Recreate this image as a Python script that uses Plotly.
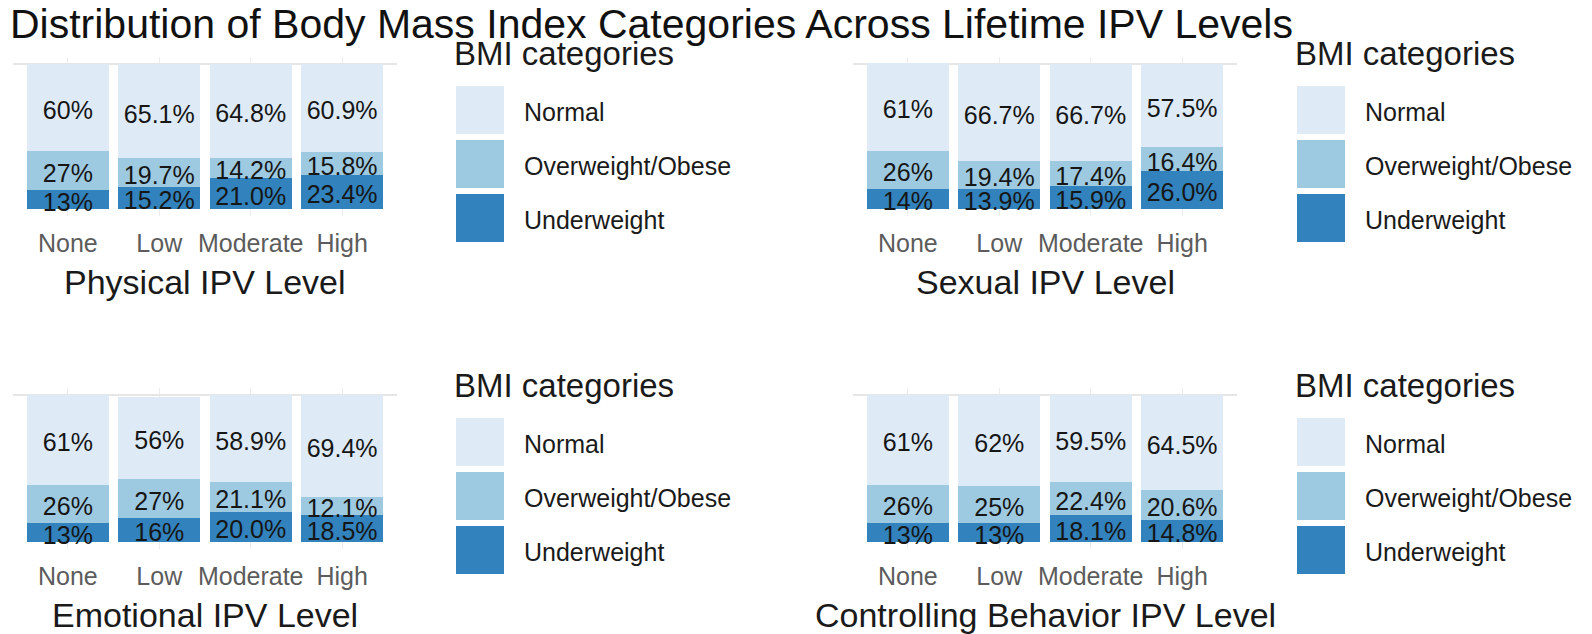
import plotly.graph_objects as go
from plotly.subplots import make_subplots

# ---- data (labels as printed on the bars) ----
levels = ["None", "Low", "Moderate", "High"]
bmi_order = ["Underweight", "Overweight/Obese", "Normal"]   # bottom -> top
bmi_legend = ["Normal", "Overweight/Obese", "Underweight"]
bmi_colors = {"Normal": "#deebf7", "Overweight/Obese": "#9ecae1", "Underweight": "#3182bd"}

physical_normal = ["60%", "65.1%", "64.8%", "60.9%"]
physical_over = ["27%", "19.7%", "14.2%", "15.8%"]
physical_under = ["13%", "15.2%", "21.0%", "23.4%"]

sexual_normal = ["61%", "66.7%", "66.7%", "57.5%"]
sexual_over = ["26%", "19.4%", "17.4%", "16.4%"]
sexual_under = ["14%", "13.9%", "15.9%", "26.0%"]

emotional_normal = ["61%", "56%", "58.9%", "69.4%"]
emotional_over = ["26%", "27%", "21.1%", "12.1%"]
emotional_under = ["13%", "16%", "20.0%", "18.5%"]

controlling_normal = ["61%", "62%", "59.5%", "64.5%"]
controlling_over = ["26%", "25%", "22.4%", "20.6%"]
controlling_under = ["13%", "13%", "18.1%", "14.8%"]

panels = [
    ("Physical IPV Level", physical_normal, physical_over, physical_under),
    ("Sexual IPV Level", sexual_normal, sexual_over, sexual_under),
    ("Emotional IPV Level", emotional_normal, emotional_over, emotional_under),
    ("Controlling Behavior IPV Level", controlling_normal, controlling_over, controlling_under),
]

W, H = 1592, 634
OFF = 8  # page body margin
FONT = "Liberation Sans, Arial, sans-serif"
LABEL_DROP = 3.5  # bar labels sit a little under the segment centre


def px(x):
    return (x - OFF) / W


def py(y):
    return 1 - (y - OFF) / H


# pixel boxes of each panel: (x0, x1), (y_top, y_bottom)
col_x = [(13, 397), (853, 1237)]
row_y = [(57, 216), (388, 549)]

fig = make_subplots(rows=2, cols=2)
annotations = []
shapes = []

for i, (title, normal, over, under) in enumerate(panels):
    r, c = divmod(i, 2)
    x0, x1 = col_x[c]
    yt, yb = row_y[r]
    ax = "" if i == 0 else str(i + 1)
    series = {"Underweight": under, "Overweight/Obese": over, "Normal": normal}

    base = [0.0] * 4
    mids, texts = [], []
    for g in bmi_order:
        vals = [float(s.rstrip("%")) for s in series[g]]
        fig.add_trace(go.Bar(x=levels, y=vals, marker=dict(color=bmi_colors[g], line=dict(width=0)),
                             width=0.9, name=g, showlegend=False, hoverinfo="skip"),
                      row=r + 1, col=c + 1)
        for k in range(4):
            mids.append((levels[k], base[k] + vals[k] / 2 - LABEL_DROP))
            texts.append(series[g][k])
            base[k] += vals[k]
    fig.add_trace(go.Scatter(x=[m[0] for m in mids], y=[m[1] for m in mids], text=texts,
                             mode="text", textposition="middle center",
                             textfont=dict(size=25, color="#161616", family=FONT),
                             showlegend=False, hoverinfo="skip", cliponaxis=False),
                  row=r + 1, col=c + 1)

    fig.layout["xaxis" + ax].update(domain=[px(x0), px(x1)], range=[-0.6, 3.6],
                                    showgrid=True, gridcolor="#ececec", gridwidth=1,
                                    showline=False, zeroline=False, ticks="",
                                    tickfont=dict(size=25, color="#5c5c5c", family=FONT),
                                    ticklabelstandoff=10)
    fig.layout["yaxis" + ax].update(domain=[py(yb), py(yt)], range=[-5, 105],
                                    tickvals=[100], showticklabels=False, showgrid=True,
                                    gridcolor="#e6e6e6", gridwidth=2, zeroline=False, showline=False)

    # axis title
    annotations.append(dict(text=title, x=px((x0 + x1) / 2), y=py(yb + 66), xref="paper", yref="paper",
                            xanchor="center", yanchor="middle", showarrow=False,
                            font=dict(size=34, color="#1a1a1a", family=FONT)))

    # legend drawn per panel
    lx = 456 + 841 * c
    ky = 86 + 332 * r
    annotations.append(dict(text="BMI categories", x=px(lx - 4), y=py(ky - 33), xref="paper", yref="paper",
                            xanchor="left", yanchor="middle", showarrow=False,
                            font=dict(size=33, color="#1a1a1a", family=FONT)))
    for j, g in enumerate(bmi_legend):
        top = ky + 54 * j
        shapes.append(dict(type="rect", xref="paper", yref="paper", x0=px(lx), x1=px(lx + 48),
                           y0=py(top + 48), y1=py(top), fillcolor=bmi_colors[g], line=dict(width=0)))
        annotations.append(dict(text=g, x=px(lx + 66), y=py(top + 26), xref="paper", yref="paper",
                                xanchor="left", yanchor="middle", showarrow=False,
                                font=dict(size=25, color="#1a1a1a", family=FONT)))

annotations.append(dict(text="Distribution of Body Mass Index Categories Across Lifetime IPV Levels",
                        x=px(8), y=py(24), xref="paper", yref="paper", xanchor="left", yanchor="middle",
                        showarrow=False, font=dict(size=41, color="#111111", family=FONT)))

fig.update_layout(width=W, height=H, margin=dict(l=0, r=0, t=0, b=0),
                  paper_bgcolor="white", plot_bgcolor="white", barmode="stack", bargap=0.1,
                  font=dict(family=FONT), annotations=annotations, shapes=shapes)

fig.write_html("out.html")
